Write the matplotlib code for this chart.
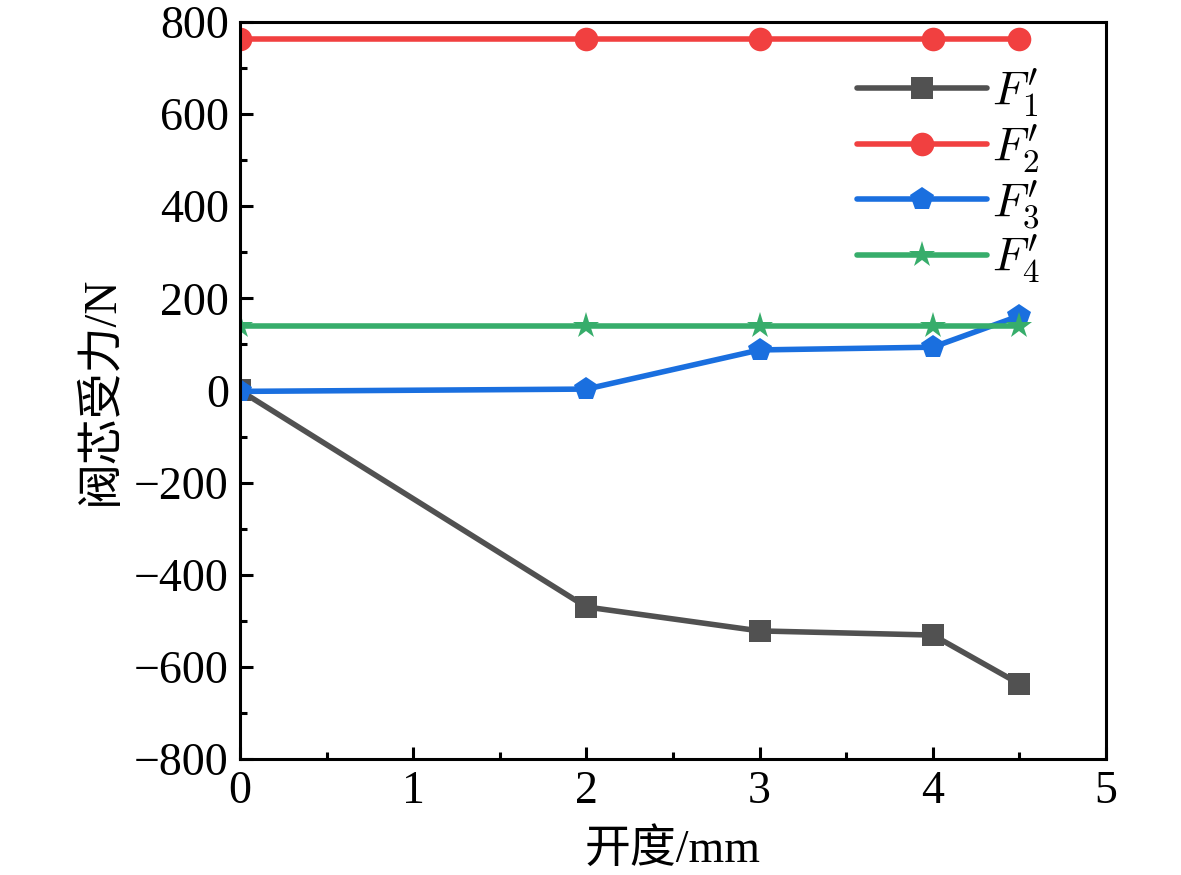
import numpy as np
import matplotlib
matplotlib.use('Agg')
import matplotlib.pyplot as plt
from matplotlib.ticker import MultipleLocator

plt.rcParams['font.family'] = ['Liberation Serif', 'Noto Sans CJK SC']
plt.rcParams['mathtext.fontset'] = 'stix'
plt.rcParams['axes.unicode_minus'] = True

opening = [0, 2, 3, 4, 4.5]
f1 = [0, -470, -522, -531, -637]
f2 = [763, 763, 763, 763, 763]
f3 = [-2, 3, 88, 94, 162]
f4 = [140, 140, 140, 140, 140]

labels = [r"$F_1^{\prime}$", r"$F_2^{\prime}$", r"$F_3^{\prime}$", r"$F_4^{\prime}$"]
colors = ['#515151', '#F14040', '#1A6FDF', '#37AD6B']
markers = ['s', 'o', 'p', '*']
sizes = [16, 17, 18, 20]

fig = plt.figure(figsize=(11.81, 8.75), dpi=100)
ax = fig.add_axes([0.2032, 0.1326, 0.7333, 0.8423])

for y, lab, c, m, ms in zip([f1, f2, f3, f4], labels, colors, markers, sizes):
    ax.plot(opening, y, color=c, marker=m, markersize=ms, linewidth=4,
            label=lab, markeredgewidth=0, solid_capstyle='round')

ax.set_xlim(0, 5)
ax.set_ylim(-800, 800)
ax.xaxis.set_major_locator(MultipleLocator(1))
ax.xaxis.set_minor_locator(MultipleLocator(0.5))
ax.yaxis.set_major_locator(MultipleLocator(200))
ax.yaxis.set_minor_locator(MultipleLocator(100))
ax.tick_params(which='both', direction='in', top=False, right=False, width=2.2, labelsize=33)
ax.tick_params(which='major', length=9, pad=8)
ax.tick_params(which='minor', length=5)
for s in ax.spines.values():
    s.set_linewidth(2.2)

ax.set_xlabel('开度/mm', fontsize=33, labelpad=12)
ax.set_ylabel('阀芯受力/N', fontsize=33, labelpad=8)

ax.legend(loc='upper right', bbox_to_anchor=(0.945, 0.965), frameon=False,
          prop={'size': 34, 'math_fontfamily': 'cm'},
          handlelength=2.75, handletextpad=0.1, labelspacing=0.07, borderaxespad=0)

fig.savefig('out.png', dpi=100)
